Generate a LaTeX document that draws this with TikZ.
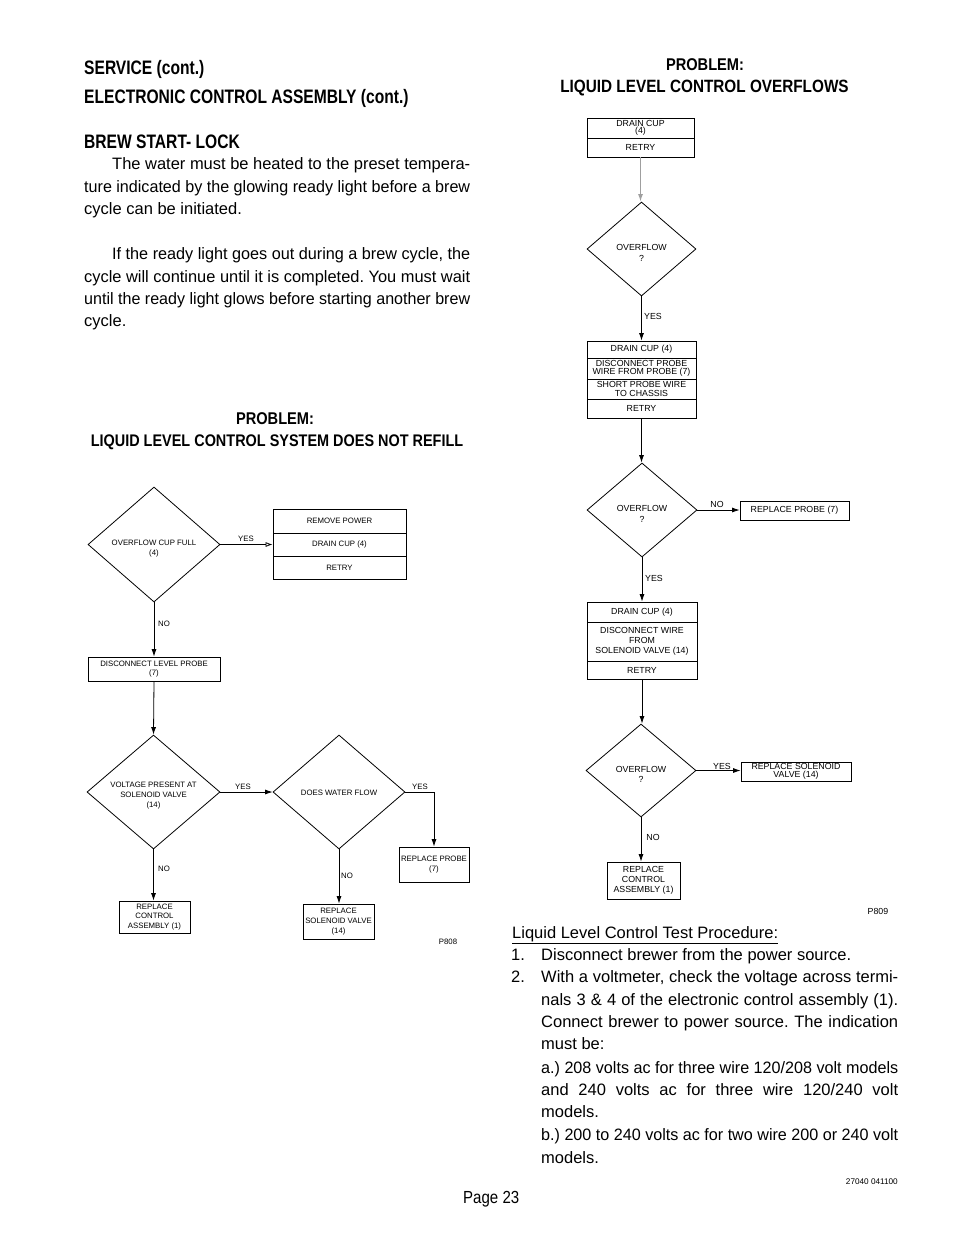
\documentclass[tikz,border=0pt]{standalone}
\usepackage{fontspec}
\usepackage{graphicx}
\setmainfont{Liberation Sans}
\newfontfamily\headfont{Liberation Sans}[FakeStretch=0.8]
\newfontfamily\subfont{Liberation Sans}[FakeStretch=0.86]
\usetikzlibrary{shapes.geometric,arrows.meta}
\frenchspacing
\newlength\jlw
\newcommand\jline[2]{\settowidth\jlw{#2}\ifdim\jlw>#1\relax\resizebox{#1}{\height}{#2}\else\makebox[#1][s]{#2}\fi}
\newcommand\rbox[7][]{\node[rowbox,#1,minimum width={#5-#3},minimum height={#6-#4}] (#2) at ({(#3+#5)/2},{(#4+#6)/2}) {#7};}
% diamond: shape drawn empty, text set as its own node slightly below the centre
\newcommand\dbox[8][]{\node[dia,minimum width={#5-#3},minimum height={#6-#4}] (#2) at ({(#3+#5)/2},{(#4+#6)/2}) {};
  \node[inner sep=0,align=center,#1] (#2t) at ([yshift=-#7pt]#2.center) {#8};}
\begin{document}
\begin{tikzpicture}[x=1pt,y=-1pt,
  head/.style={anchor=base west,inner sep=0,font=\headfont\bfseries\fontsize{19.5}{22}\selectfont},
  sub/.style={anchor=base,inner sep=0,font=\subfont\bfseries\fontsize{17}{20}\selectfont},
  body/.style={anchor=base west,inner sep=0,font=\fontsize{16.5}{20}\selectfont},
  rowbox/.style={draw,rectangle,inner sep=0,align=center,line width=0.8pt},
  dia/.style={draw,diamond,inner sep=0,line width=0.8pt},
  lfc/.style={font=\fontsize{7.8}{9.8}\selectfont},
  rfc/.style={font=\fontsize{8.8}{10.2}\selectfont},
  tight/.style={font=\fontsize{8.8}{8.6}\selectfont},
  lbl/.style={inner sep=0},
  tipfill/.tip={Latex[length=7.5pt,width=5pt]},
  tipopen/.tip={Latex[open,length=7pt,width=5pt]},
  conn/.style={draw=black,line width=0.8pt,-tipfill},
  openconn/.style={draw=black,line width=0.8pt,-tipopen}]
\fill[white] (0,0) rectangle (954,1235);
\useasboundingbox (0,0) rectangle (954,1235);

% ---------- left text ----------
\node[head] (h1) at (84,74) {SERVICE (cont.)};
\node[head] (h2) at (84,103) {ELECTRONIC CONTROL ASSEMBLY (cont.)};
\node[head] (h3) at (84,148) {BREW START- LOCK};
\node[body] (p1) at (112,169.5) {\jline{358pt}{The water must be heated to the preset tempera-}};
\node[body] (p2) at (84,192.5) {\jline{386pt}{ture indicated by the glowing ready light before a brew}};
\node[body] (p3) at (84,214.5) {cycle can be initiated.};
\node[body] (p4) at (112,259.5) {\jline{358pt}{If the ready light goes out during a brew cycle, the}};
\node[body] (p5) at (84,282.5) {\jline{386pt}{cycle will continue until it is completed. You must wait}};
\node[body] (p6) at (84,304.5) {\jline{386pt}{until the ready light glows before starting another brew}};
\node[body] (p7) at (84,326.5) {cycle.};

\node[sub] (lp1) at (275,424) {PROBLEM:};
\node[sub,font=\subfont\bfseries\fontsize{16.8}{20}\selectfont] (lp2) at (277,446) {LIQUID LEVEL CONTROL SYSTEM DOES NOT REFILL};

% ---------- left flowchart ----------
\dbox[lfc]{d1}{88}{487}{220}{602}{4}{OVERFLOW CUP FULL\\(4)}
\rbox[lfc]{b1a}{273}{509}{406}{533}{REMOVE POWER}
\rbox[lfc]{b1b}{273}{533}{406}{556}{DRAIN CUP (4)}
\rbox[lfc]{b1c}{273}{556}{406}{579}{RETRY}
\rbox[lfc]{dlp}{88}{657}{220}{681}{DISCONNECT LEVEL PROBE\\(7)}
\dbox[lfc]{d2}{87}{735}{220}{849}{3.5}{VOLTAGE PRESENT AT\\SOLENOID VALVE\\(14)}
\dbox[lfc]{d3}{273}{735}{405}{849}{0.5}{DOES WATER FLOW}
\rbox[lfc]{rp}{399}{847}{469}{882}{REPLACE PROBE\\(7)}
\rbox[lfc]{rca}{119}{901}{190}{933}{REPLACE\\CONTROL\\ASSEMBLY (1)}
\rbox[lfc]{rsv}{303}{904}{374}{939}{REPLACE\\SOLENOID VALVE\\(14)}

\draw[openconn] (d1.east) -- (b1b.west);
\draw[conn] (d1.south) -- (dlp.north);
\draw[conn] (dlp.south) -- (d2.north);
\draw[conn] (d2.east) -- (d3.west);
\draw[conn] (d3.east) -| (rp.north);
\draw[conn] (d2.south) -- (d2.south |- rca.north);
\draw[conn] (d3.south) -- (d3.south |- rsv.north);

\node[lbl,lfc] (ly1) at (246,539) {YES};
\node[lbl,lfc] (ln1) at (164,624) {NO};
\node[lbl,lfc] (ly2) at (243,787) {YES};
\node[lbl,lfc] (ly3) at (420,787) {YES};
\node[lbl,lfc] (ln2) at (164,869) {NO};
\node[lbl,lfc] (ln3) at (347,876) {NO};
\node[lbl,lfc] (p808) at (448,942) {P808};

% ---------- right headings ----------
\node[sub] (rp1) at (705,70) {PROBLEM:};
\node[sub,font=\subfont\bfseries\fontsize{17.8}{20}\selectfont] (rp2t) at (704.5,92) {LIQUID LEVEL CONTROL OVERFLOWS};

% ---------- right flowchart ----------
\rbox[rfc,font=\fontsize{8.8}{7.6}\selectfont]{t1a}{587}{118}{694}{138}{DRAIN CUP\\(4)}
\rbox[rfc]{t1b}{587}{138}{694}{157}{RETRY}
\dbox[rfc]{o1}{587}{202}{696}{296}{4}{OVERFLOW\\?}
\rbox[rfc]{s2a}{587}{341}{696}{358}{DRAIN CUP (4)}
\rbox[rfc,tight]{s2b}{587}{358}{696}{379}{DISCONNECT PROBE\\WIRE FROM PROBE (7)}
\rbox[rfc,tight]{s2c}{587}{379}{696}{399}{SHORT PROBE WIRE\\TO CHASSIS}
\rbox[rfc]{s2d}{587}{399}{696}{418}{RETRY}
\dbox[rfc]{o2}{587}{463}{697}{557}{4}{OVERFLOW\\?}
\rbox[rfc]{rp2}{740}{501}{849}{520}{REPLACE PROBE (7)}
\rbox[rfc]{s3a}{587}{602}{697}{622}{DRAIN CUP (4)}
\rbox[rfc]{s3b}{587}{622}{697}{661}{DISCONNECT WIRE\\FROM\\SOLENOID VALVE (14)}
\rbox[rfc]{s3c}{587}{661}{697}{679}{RETRY}
\dbox[rfc]{o3}{586}{724}{696}{817}{4}{OVERFLOW\\?}
\rbox[rfc,tight]{rsv2}{741}{762}{851}{781}{REPLACE SOLENOID\\VALVE (14)}
\rbox[rfc]{rca2}{607}{862}{680}{899}{REPLACE\\CONTROL\\ASSEMBLY (1)}

\draw[conn,draw=gray!75,fill=gray!75,line width=1.2pt] (t1b.south) -- (t1b.south |- o1.north);
\draw[conn] (o1.south) -- (o1.south |- s2a.north);
\draw[conn] (s2d.south) -- (s2d.south |- o2.north);
\draw[conn] (o2.east) -- (o2.east -| rp2.west);
\draw[conn] (o2.south) -- (o2.south |- s3a.north);
\draw[conn] (s3c.south) -- (s3c.south |- o3.north);
\draw[conn] (o3.east) -- (o3.east -| rsv2.west);
\draw[conn] (o3.south) -- (o3.south |- rca2.north);

\node[lbl,rfc] (ry1) at (653,316) {YES};
\node[lbl,rfc] (rn1) at (717,504) {NO};
\node[lbl,rfc] (ry2) at (654,578) {YES};
\node[lbl,rfc] (ry3) at (722,766) {YES};
\node[lbl,rfc] (rn2) at (653,837) {NO};
\node[lbl,rfc] (p809) at (878,911) {P809};

% ---------- right text ----------
\node[body] (q0) at (512,938.5) {\underline{Liquid Level Control Test Procedure:}};
\node[body] (q1n) at (511,960.5) {1.};
\node[body] (q1) at (541,960.5) {Disconnect brewer from the power source.};
\node[body] (q2n) at (511,982.5) {2.};
\node[body] (q2) at (541,982.5) {\jline{357pt}{With a voltmeter, check the voltage across termi-}};
\node[body] (q3) at (541,1005) {\jline{357pt}{nals 3 \& 4 of the electronic control assembly (1).}};
\node[body] (q4) at (541,1027.5) {\jline{357pt}{Connect brewer to power source. The indication}};
\node[body] (q5) at (541,1049.5) {must be:};
\node[body] (q6) at (541,1073) {\jline{357pt}{a.) 208 volts ac for three wire 120/208 volt models}};
\node[body] (q7) at (541,1095.5) {\jline{357pt}{and 240 volts ac for three wire 120/240 volt}};
\node[body] (q8) at (541,1117.5) {models.};
\node[body] (q9) at (541,1140.5) {\jline{357pt}{b.) 200 to 240 volts ac for two wire 200 or 240 volt}};
\node[body] (q10) at (541,1163) {models.};

\node[inner sep=0,anchor=east,font=\fontsize{8.2}{10}\selectfont] (code) at (898,1182) {27040 041100};
\node[inner sep=0,anchor=base west,font=\subfont\fontsize{17.5}{20}\selectfont] (page) at (463,1203) {Page 23};
\end{tikzpicture}
\end{document}
